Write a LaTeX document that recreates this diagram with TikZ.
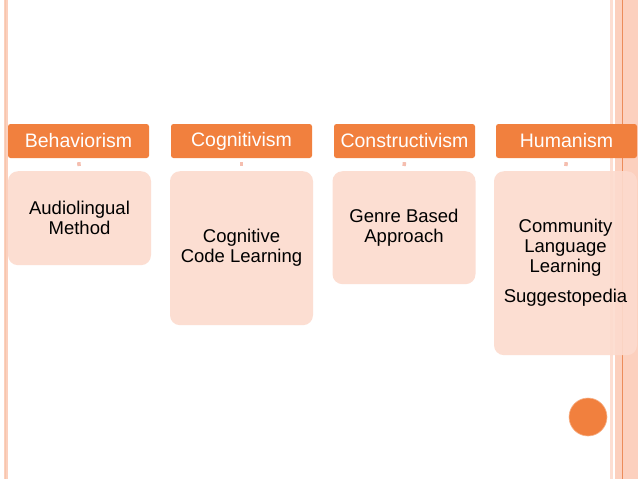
\documentclass[tikz,border=0pt]{standalone}
\usepackage{fontspec}
\setmainfont{Liberation Sans}
\definecolor{hdr}{RGB}{241,128,62}
\definecolor{cbox}{RGB}{252,219,206}
\definecolor{band}{RGB}{252,208,190}
\definecolor{bandline}{RGB}{236,140,90}
\definecolor{dotc}{RGB}{245,190,175}
\begin{document}
\begin{tikzpicture}[x=1pt,y=-1pt,
  hdrbox/.style={fill=hdr,rounded corners=2.5pt,minimum width=141pt,minimum height=34pt,inner sep=0pt,
     text=white,font=\fontsize{19.5}{22}\selectfont},
  contbox/.style={fill=cbox,fill opacity=0.9,text opacity=1,rounded corners=10pt,minimum width=143pt,inner sep=0pt,
     align=center,text=black,font=\fontsize{18.5}{20}\selectfont},
  linkdot/.style={draw=dotc,line width=3.5pt,shorten <=4pt,shorten >=5pt}]
\useasboundingbox (0,0) rectangle (638,479);
\fill[white] (0,0) rectangle (638,479);
% left border line
\fill[band] (4,0) rectangle (7.5,479);
\draw[bandline!50,line width=0.6pt] (5.7,0) -- (5.7,479);
% right band
\fill[band!70] (610,0) rectangle (613,479);
\fill[band] (615,0) rectangle (638,479);
\draw[bandline,line width=0.8pt] (622.5,0) -- (622.5,479);
% headers
\node[hdrbox] (h1) at (78.5,141) {Behaviorism};
\node[hdrbox] (h2) at (241.5,141) {Cognitivism};
\node[hdrbox] (h3) at (404.5,141) {Constructivism};
\node[hdrbox] (h4) at (566.5,141) {Humanism};
% content boxes
\node[contbox,minimum height=94pt,anchor=north] (c1) at (79.5,171) {Audiolingual\\Method};
\node[contbox,minimum height=154pt,anchor=north] (c2) at (241.5,171) {Cognitive\\Code Learning};
\node[contbox,minimum height=113pt,anchor=north] (c3) at (404,171) {Genre Based\\Approach};
\node[contbox,minimum height=184pt,anchor=north] (c4) at (565.5,171) {Community\\Language\\Learning\\[10pt]Suggestopedia};
% links
\draw[linkdot] (h1.south) -- (c1.north);
\draw[linkdot] (h2.south) -- (c2.north);
\draw[linkdot] (h3.south) -- (c3.north);
\draw[linkdot] (h4.south) -- (c4.north);
% circle
\node[circle,fill=hdr,draw=hdr!60,line width=0.6pt,minimum size=38pt,inner sep=0pt] (dot) at (588,417) {};
\end{tikzpicture}
\end{document}
